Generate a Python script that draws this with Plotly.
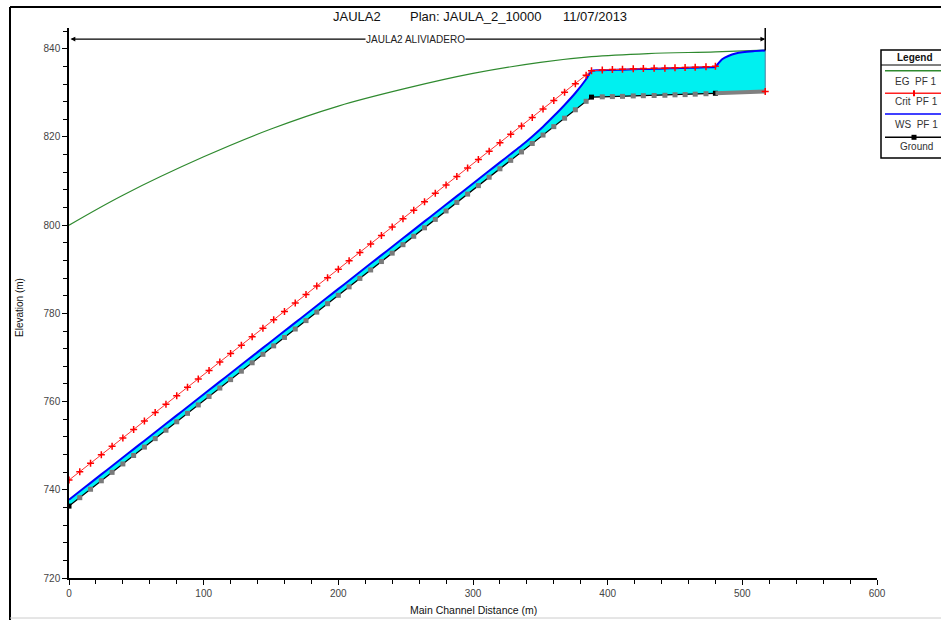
import plotly.graph_objects as go

# ---------------- data ----------------
title_parts = ["JAULA2", "Plan: JAULA_2_10000", "11/07/2013"]
reach_label = "JAULA2 ALIVIADERO"
reach_start, reach_end = 0, 517

stations = [0, 8, 16, 24, 32, 40, 48, 56, 64, 72, 80, 88, 96, 104, 112, 120, 128, 136,
            144, 152, 160, 168, 176, 184, 192, 200, 208, 216, 224, 232, 240, 248, 256,
            264, 272, 280, 288, 296, 304, 312, 320, 328, 336, 344, 352, 360, 368, 376,
            384, 388, 396, 403.5, 411, 419, 426.5, 434.5, 442.5, 450, 457.5, 465, 473,
            480, 517]

ground = [736.30, 738.21, 740.12, 742.04, 743.95, 745.86, 747.77, 749.68, 751.60, 753.51,
          755.42, 757.33, 759.24, 761.16, 763.07, 764.98, 766.89, 768.80, 770.72, 772.63,
          774.54, 776.45, 778.36, 780.28, 782.19, 784.10, 786.01, 787.92, 789.84, 791.75,
          793.66, 795.57, 797.48, 799.40, 801.31, 803.22, 805.13, 807.04, 808.96, 810.87,
          812.78, 814.69, 816.60, 818.52, 820.43, 822.34, 824.25, 826.16, 828.08, 829.03,
          829.10, 829.15, 829.20, 829.30, 829.35, 829.40, 829.45, 829.55, 829.60, 829.70,
          829.80, 829.90, 830.30]

crit = [742.20, 744.11, 746.02, 747.94, 749.85, 751.76, 753.67, 755.58, 757.50, 759.41,
        761.32, 763.23, 765.14, 767.06, 768.97, 770.88, 772.79, 774.70, 776.62, 778.53,
        780.44, 782.35, 784.26, 786.18, 788.09, 790.00, 791.91, 793.82, 795.74, 797.65,
        799.56, 801.47, 803.38, 805.30, 807.21, 809.12, 811.03, 812.94, 814.86, 816.77,
        818.68, 820.59, 822.50, 824.42, 826.33, 828.24, 830.15, 832.06, 833.98, 835.00,
        835.20, 835.30, 835.35, 835.45, 835.50, 835.55, 835.60, 835.70, 835.75, 835.80,
        835.90, 836.00, 830.30]

ws_stations = [0, 8, 16, 24, 32, 40, 48, 56, 64, 72, 80, 88, 96, 104, 112, 120, 128, 136,
               144, 152, 160, 168, 176, 184, 192, 200, 208, 216, 224, 232, 240, 248, 256,
               264, 272, 280, 288, 296, 304, 312, 320, 328, 336, 344, 352, 360, 368, 376,
               384, 388, 396, 403.5, 411, 419, 426.5, 434.5, 442.5, 450, 457.5, 465, 473,
               480, 482, 485, 490, 495, 500, 508, 517]
ws = [737.75, 739.66, 741.57, 743.49, 745.40, 747.31, 749.22, 751.13, 753.05, 754.96,
      756.87, 758.78, 760.69, 762.61, 764.52, 766.43, 768.34, 770.25, 772.17, 774.08,
      775.99, 777.90, 779.81, 781.73, 783.64, 785.55, 787.46, 789.37, 791.29, 793.20,
      795.11, 797.02, 798.93, 800.85, 802.76, 804.67, 806.58, 808.49, 810.41, 812.32,
      814.23, 816.14, 818.05, 820.12, 822.33, 824.74, 827.25, 829.96, 833.08, 835.00,
      835.10, 835.20, 835.25, 835.35, 835.40, 835.45, 835.50, 835.60, 835.65, 835.70,
      835.80, 835.90, 836.60, 837.60, 838.40, 838.90, 839.20, 839.45, 839.60]

eg_stations = [0, 40, 100, 150, 200, 250, 300, 350, 388, 430, 480, 517]
eg = [800.0, 806.8, 815.5, 821.8, 827.0, 831.0, 834.4, 836.9, 838.2, 838.9, 839.3, 839.7]

key_stations = [0, 388, 480]

x_ticks = [0, 100, 200, 300, 400, 500, 600]
y_ticks = [720, 740, 760, 780, 800, 820, 840]

legend_items = ["EG  PF 1", "Crit  PF 1", "WS  PF 1", "Ground"]

# ---------------- figure ----------------
FONT = "Arial, Liberation Sans, sans-serif"
fig = go.Figure()

# water fill between ground and water surface
fill_x = stations + ws_stations[::-1]
fill_y = ground + ws[::-1]
fig.add_trace(go.Scatter(x=fill_x, y=fill_y, fill="toself", fillcolor="#00f0f0",
                         mode="none", hoverinfo="skip", showlegend=False))

# EG
fig.add_trace(go.Scatter(x=eg_stations, y=eg, mode="lines",
                         line=dict(color="#2f8a2f", width=1.2, shape="spline"),
                         showlegend=False))

# ground
g_colors = ["#000000" if s in key_stations else "#7a7a7a" for s in stations[:-1]]
fig.add_trace(go.Scatter(x=stations[:-1], y=ground[:-1], mode="lines+markers",
                         line=dict(color="#000000", width=1.3),
                         marker=dict(symbol="square", size=5, color=g_colors),
                         showlegend=False))
fig.add_trace(go.Scatter(x=stations[-2:], y=ground[-2:], mode="lines",
                         line=dict(color="#808080", width=4), showlegend=False))

# right edge of water body
fig.add_trace(go.Scatter(x=[stations[-1], ws_stations[-1]], y=[ground[-1], ws[-1]], mode="lines",
                         line=dict(color="#4a7fa0", width=1), showlegend=False))

# WS
fig.add_trace(go.Scatter(x=ws_stations, y=ws, mode="lines",
                         line=dict(color="#0000ff", width=2, shape="spline", smoothing=0.6),
                         showlegend=False))

# Crit
fig.add_trace(go.Scatter(x=stations[:-1], y=crit[:-1], mode="lines+markers",
                         line=dict(color="#ff3030", width=1),
                         marker=dict(symbol="cross-thin", size=5, line=dict(color="#ff0000", width=1.5)),
                         showlegend=False))
fig.add_trace(go.Scatter(x=stations[-1:], y=crit[-1:], mode="markers",
                         marker=dict(symbol="cross-thin", size=5, line=dict(color="#ff0000", width=1.5)),
                         showlegend=False))

# reach label arrow
reach_y = 842.2
fig.add_annotation(x=reach_end, y=reach_y, ax=reach_start, ay=reach_y, axref="x", ayref="y",
                   xref="x", yref="y", text="", showarrow=True, arrowhead=2, arrowside="end+start",
                   arrowsize=0.8, arrowwidth=1.2, arrowcolor="#000000")
fig.add_shape(type="line", xref="x", yref="y", x0=reach_end, x1=reach_end, y0=839.6, y1=844.7,
              line=dict(color="#000000", width=1.5))
fig.add_annotation(x=257, y=reach_y, xref="x", yref="y", xanchor="center", yanchor="middle",
                   text=reach_label, showarrow=False, bgcolor="#ffffff",
                   font=dict(family=FONT, size=10, color="#222222"), borderpad=0)


def px2x(p):
    return (p - 69) / 808


def px2y(p):
    return (578 - p) / 550


def label(px, py, text, size, color="#111111", angle=0):
    fig.add_annotation(x=px2x(px), y=px2y(py), xref="paper", yref="paper",
                       xanchor="center", yanchor="middle", text=text, showarrow=False,
                       textangle=angle, font=dict(family=FONT, size=size, color=color))


# title
title_px = [357, 476.5, 595]
for t, px in zip(title_parts, title_px):
    label(px, 17, t, 13)

# axis titles
label(473, 610, "Main Channel Distance (m)", 10.5)
label(20, 308, "Elevation (m)", 10, angle=-90)

# outer frame
fig.add_shape(type="line", xref="paper", yref="paper", x0=px2x(10), x1=px2x(945), y0=px2y(7), y1=px2y(7),
              line=dict(color="#000000", width=2))
fig.add_shape(type="line", xref="paper", yref="paper", x0=px2x(10), x1=px2x(10), y0=px2y(7), y1=px2y(625),
              line=dict(color="#000000", width=2))
fig.add_shape(type="line", xref="paper", yref="paper", x0=px2x(10), x1=px2x(945), y0=px2y(618), y1=px2y(618),
              line=dict(color="#cccccc", width=1))

# custom legend box
fig.add_shape(type="rect", xref="paper", yref="paper", x0=px2x(881), x1=px2x(960), y0=px2y(158), y1=px2y(50),
              line=dict(color="#000000", width=1.5), fillcolor="#ffffff")
fig.add_shape(type="line", xref="paper", yref="paper", x0=px2x(881), x1=px2x(960), y0=px2y(65), y1=px2y(65),
              line=dict(color="#000000", width=1))
label(915, 57.5, "<b>Legend</b>", 10)
leg_line_y = [70.7, 93.3, 114, 137.3]
leg_text_y = [81.5, 102, 124, 146.5]
leg_colors = ["#2f8a2f", "#ff2020", "#0000ff", "#000000"]
for name, ly, ty, c in zip(legend_items, leg_line_y, leg_text_y, leg_colors):
    fig.add_shape(type="line", xref="paper", yref="paper", x0=px2x(885), x1=px2x(960), y0=px2y(ly), y1=px2y(ly),
                  line=dict(color=c, width=1.5))
    label(916, ty, name, 10, color="#333333")
fig.add_shape(type="line", xref="paper", yref="paper", x0=px2x(914), x1=px2x(914),
              y0=px2y(90.3), y1=px2y(96.3), line=dict(color="#ff0000", width=2))
fig.add_shape(type="rect", xref="paper", yref="paper", x0=px2x(911.5), x1=px2x(916.5),
              y0=px2y(139.8), y1=px2y(134.8), line=dict(width=0), fillcolor="#000000")

fig.update_layout(
    width=941, height=620,
    margin=dict(l=69, r=64, t=28, b=42),
    paper_bgcolor="#ffffff", plot_bgcolor="#ffffff",
    showlegend=False,
    font=dict(family=FONT, size=10, color="#333333"),
)
fig.update_xaxes(range=[0, 600], tickvals=x_ticks, showgrid=False, zeroline=False, automargin=False,
                 showline=True, linecolor="#000000", linewidth=1.5,
                 ticks="outside", ticklen=5, tickcolor="#000000", tickwidth=1.2,
                 minor=dict(dtick=20, ticks="outside", ticklen=4, tickcolor="#000000", tickwidth=1.2),
                 tickfont=dict(family=FONT, size=10, color="#444444"))
fig.update_yaxes(range=[720, 844.7], tickvals=y_ticks, showgrid=False, zeroline=False, automargin=False,
                 showline=True, linecolor="#000000", linewidth=1.5,
                 ticks="outside", ticklen=5, tickcolor="#000000", tickwidth=1.2,
                 minor=dict(dtick=4, ticks="outside", ticklen=4, tickcolor="#000000", tickwidth=1.2),
                 tickfont=dict(family=FONT, size=10, color="#444444"))

fig.write_html("out.html", config={"displayModeBar": False},
               post_script="document.body.style.margin='0px';")
